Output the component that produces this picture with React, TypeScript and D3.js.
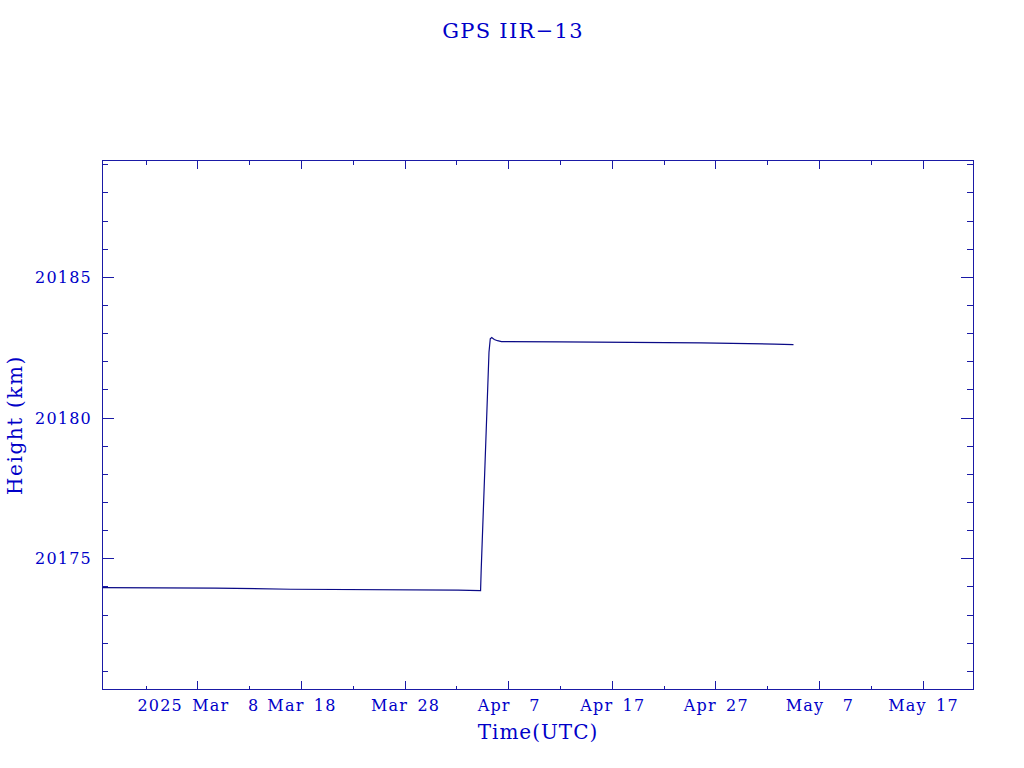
import React from "react";
import * as d3 from "d3";

const title = "GPS IIR\u221213";
const xTitle = "Time(UTC)";
const yTitle = "Height (km)";

const times = [
  "2025-02-26T20:10Z", "2025-03-09T16:48Z", "2025-03-17T00:54Z", "2025-04-02T03:48Z",
  "2025-04-04T08:06Z", "2025-04-04T09:30Z", "2025-04-04T18:18Z", "2025-04-05T03:36Z",
  "2025-04-05T06:36Z", "2025-04-05T09:54Z", "2025-04-05T15:54Z", "2025-04-05T23:18Z",
  "2025-04-06T08:36Z", "2025-04-12T00:06Z", "2025-04-25T14:48Z", "2025-05-02T16:36Z",
  "2025-05-04T13:06Z",
];
const heights = [
  20173.96, 20173.94, 20173.90, 20173.87,
  20173.85, 20174.57, 20178.31, 20182.32,
  20182.80, 20182.84, 20182.77, 20182.73,
  20182.70, 20182.69, 20182.65, 20182.61,
  20182.59,
];

const xDomain = ["2025-02-26T19:00Z", "2025-05-21T21:00Z"];
const yDomain = [20170.32, 20189.15];

const xTickDates = [
  "2025-03-08T00:00Z", "2025-03-18T00:00Z", "2025-03-28T00:00Z", "2025-04-07T00:00Z",
  "2025-04-17T00:00Z", "2025-04-27T00:00Z", "2025-05-07T00:00Z", "2025-05-17T00:00Z",
];
const xTickLabels = [
  "2025 Mar  8", "Mar 18", "Mar 28", "Apr  7", "Apr 17", "Apr 27", "May  7", "May 17",
];
const yMajorTicks = [20175, 20180, 20185];
const yTickLabels = ["20175", "20180", "20185"];

const AXIS = "#1a1aa6";
const TEXT = "#0000c8";
const LINE = "#0a0a86";
const FONT = "'DejaVu Serif', serif";

export default function App() {
  const L = 102, R = 973, T = 160, B = 690;
  const x = d3.scaleUtc().domain(xDomain.map((s) => new Date(s))).range([L, R]);
  const y = d3.scaleLinear().domain(yDomain).range([B, T]);

  const data = times.map((t, i) => ({ t: new Date(t), v: heights[i] }));
  const line = d3
    .line<{ t: Date; v: number }>()
    .x((d) => x(d.t))
    .y((d) => y(d.v));

  const [d0, d1] = x.domain();
  const majors = xTickDates.map((s) => new Date(s));
  const minors: Date[] = [];
  majors.forEach((m) => {
    [-5, 5].forEach((o) => {
      const dd = d3.utcDay.offset(m, o);
      if (dd > d0 && dd < d1 && !minors.some((q) => +q === +dd) && !majors.some((q) => +q === +dd))
        minors.push(dd);
    });
  });

  const yMinor = d3.range(Math.ceil(yDomain[0]), Math.floor(yDomain[1]) + 1).filter((v) => v % 5 !== 0);

  const px = (v: number) => Math.round(v) + 0.5;

  return (
    <svg
      width={1024}
      height={768}
      style={{ position: "absolute", left: 0, top: 0, background: "#fff" }}
    >
      <text x={513} y={38} textAnchor="middle" fill={TEXT} fontFamily={FONT} fontSize={21} letterSpacing={1.3}>
        {title}
      </text>
      <g stroke={AXIS} strokeWidth={1} fill="none" shapeRendering="crispEdges">
        <rect x={L + 0.5} y={T + 0.5} width={R - L} height={B - T - 1} />
        {majors.map((d, i) => (
          <g key={"xm" + i}>
            <line x1={px(x(d))} x2={px(x(d))} y1={B} y2={B - 9} />
            <line x1={px(x(d))} x2={px(x(d))} y1={T} y2={T + 9} />
          </g>
        ))}
        {minors.map((d, i) => (
          <g key={"xn" + i}>
            <line x1={px(x(d))} x2={px(x(d))} y1={B} y2={B - 4.5} />
            <line x1={px(x(d))} x2={px(x(d))} y1={T} y2={T + 4.5} />
          </g>
        ))}
        {yMajorTicks.map((v, i) => (
          <g key={"ym" + i}>
            <line x1={L} x2={L + 12} y1={px(y(v))} y2={px(y(v))} />
            <line x1={R} x2={R - 12} y1={px(y(v))} y2={px(y(v))} />
          </g>
        ))}
        {yMinor.map((v, i) => (
          <g key={"yn" + i}>
            <line x1={L} x2={L + 6} y1={px(y(v))} y2={px(y(v))} />
            <line x1={R} x2={R - 6} y1={px(y(v))} y2={px(y(v))} />
          </g>
        ))}
      </g>
      <g fill={TEXT} fontFamily={FONT} fontSize={16} letterSpacing={1.2} wordSpacing={3} style={{ whiteSpace: "pre" }}>
        {majors.map((d, i) => (
          <text key={"xl" + i} x={x(d) + 1} y={711} textAnchor="middle" xmlSpace="preserve">
            {xTickLabels[i]}
          </text>
        ))}
        {yMajorTicks.map((v, i) => (
          <text key={"yl" + i} x={92} y={y(v) + 6} textAnchor="end">
            {yTickLabels[i]}
          </text>
        ))}
      </g>
      <text x={538} y={739} textAnchor="middle" fill={TEXT} fontFamily={FONT} fontSize={20} letterSpacing={1}>
        {xTitle}
      </text>
      <text
        transform={`translate(22,425) rotate(-90)`}
        textAnchor="middle"
        fill={TEXT}
        fontFamily={FONT}
        fontSize={20}
        letterSpacing={1.6}
      >
        {yTitle}
      </text>
      <path d={line(data) || ""} fill="none" stroke={LINE} strokeWidth={1.2} />
    </svg>
  );
}
